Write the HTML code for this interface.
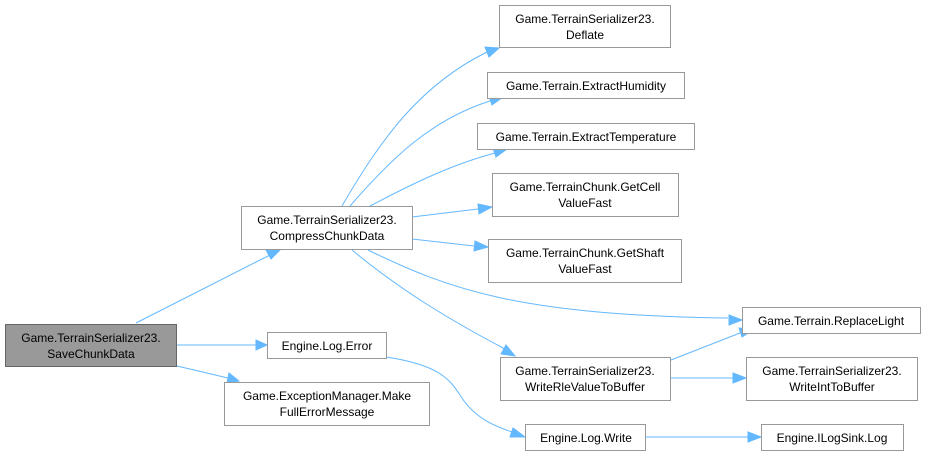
<!DOCTYPE html>
<html><head><meta charset="utf-8"><style>
html,body{margin:0;padding:0;background:#fff;}
svg{display:block;}
text{font-family:"Liberation Sans",Arial,sans-serif;font-size:12px;fill:#000;text-anchor:middle;}
.n{fill:#fff;stroke:#999;stroke-width:1;}
.e{fill:none;stroke:#63b8ff;stroke-width:1;}
.a{fill:#63b8ff;stroke:#63b8ff;}
</style></head><body>
<svg width="927" height="456" viewBox="0 0 927 456">
<!-- edges -->
<path class="e" d="M136,323 L270,255"/><polygon class="a" points="280,250 266,250 271,259"/>
<path class="e" d="M177,345 L256,345"/><polygon class="a" points="267,345 256,340 256,350"/>
<path class="e" d="M177,366 L228,378"/><polygon class="a" points="239,381 229,373 227,383"/>
<path class="e" d="M342,206 C380,140 420,85 487,52"/><polygon class="a" points="499,48 485,47 489,57"/>
<path class="e" d="M350,206 C390,160 430,120 490,101"/><polygon class="a" points="503,97 489,96 492,105"/>
<path class="e" d="M370,206 C410,185 450,165 495,153"/><polygon class="a" points="507,149 493,148 496,157"/>
<path class="e" d="M412,217 L478,209"/><polygon class="a" points="492,207 478,204 479,214"/>
<path class="e" d="M412,239 L474,246"/><polygon class="a" points="488,247 475,241 474,251"/>
<path class="e" d="M368,250 C450,290 520,315 728,318"/><polygon class="a" points="742,320 729,315 729,325"/>
<path class="e" d="M352,250 C400,290 450,320 505,349"/><polygon class="a" points="515,356 506,345 501,354"/>
<path class="e" d="M386,357 C440,365 450,380 460,395 C475,420 500,428 512,432"/><polygon class="a" points="525,437 513,428 510,437"/>
<path class="e" d="M671,360 L740,333"/><polygon class="a" points="753,330 739,328 742,337"/>
<path class="e" d="M671,378 L733,378"/><polygon class="a" points="746,378 733,373 733,383"/>
<path class="e" d="M646,437 L748,437"/><polygon class="a" points="761,437 748,432 748,442"/>
<!-- nodes -->
<rect x="5.5" y="324.5" width="171" height="42" style="fill:#999;stroke:#666;"/>
<text x="91" y="342">Game.TerrainSerializer23.</text><text x="91" y="358">SaveChunkData</text>
<rect class="n" x="241.5" y="206.5" width="171" height="43"/>
<text x="327" y="224">Game.TerrainSerializer23.</text><text x="327" y="240">CompressChunkData</text>
<rect class="n" x="267.5" y="332.5" width="119" height="26"/>
<text x="327" y="350">Engine.Log.Error</text>
<rect class="n" x="224.5" y="382.5" width="205" height="43"/>
<text x="327" y="400">Game.ExceptionManager.Make</text><text x="327" y="416">FullErrorMessage</text>
<rect class="n" x="499.5" y="5.5" width="171" height="42"/>
<text x="585" y="23">Game.TerrainSerializer23.</text><text x="585" y="39">Deflate</text>
<rect class="n" x="487.5" y="72.5" width="197" height="26"/>
<text x="586" y="90">Game.Terrain.ExtractHumidity</text>
<rect class="n" x="477.5" y="123.5" width="217" height="26"/>
<text x="586" y="141">Game.Terrain.ExtractTemperature</text>
<rect class="n" x="492.5" y="173.5" width="186" height="43"/>
<text x="585" y="191">Game.TerrainChunk.GetCell</text><text x="585" y="207">ValueFast</text>
<rect class="n" x="488.5" y="239.5" width="193" height="43"/>
<text x="585" y="257">Game.TerrainChunk.GetShaft</text><text x="585" y="273">ValueFast</text>
<rect class="n" x="500.5" y="357.5" width="170" height="43"/>
<text x="585" y="375">Game.TerrainSerializer23.</text><text x="585" y="391">WriteRleValueToBuffer</text>
<rect class="n" x="525.5" y="424.5" width="120" height="26"/>
<text x="586" y="442">Engine.Log.Write</text>
<rect class="n" x="742.5" y="307.5" width="178" height="26"/>
<text x="831" y="325">Game.Terrain.ReplaceLight</text>
<rect class="n" x="746.5" y="357.5" width="171" height="43"/>
<text x="832" y="375">Game.TerrainSerializer23.</text><text x="832" y="391">WriteIntToBuffer</text>
<rect class="n" x="761.5" y="424.5" width="142" height="26"/>
<text x="832" y="442">Engine.ILogSink.Log</text>
</svg>
</body></html>
